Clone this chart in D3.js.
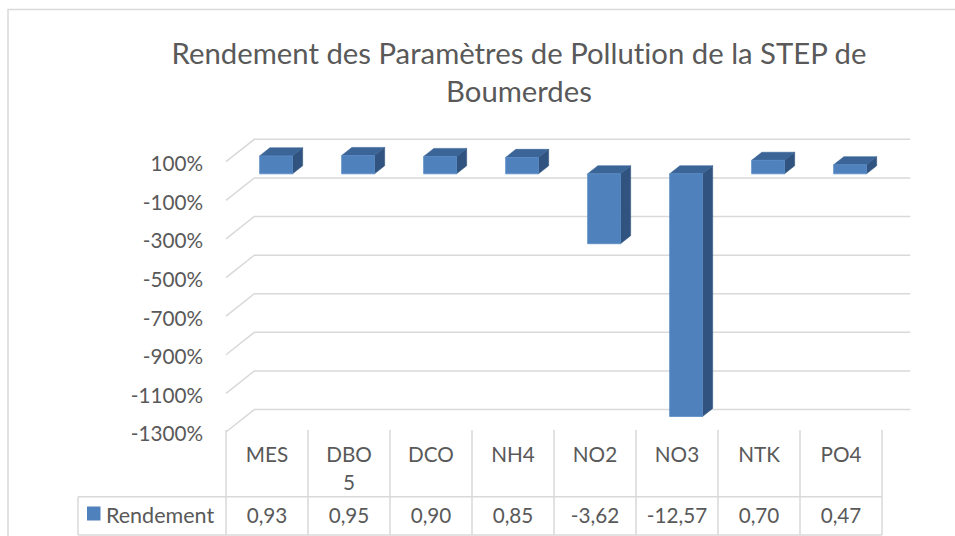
<!DOCTYPE html>
<html>
<head>
<meta charset="utf-8">
<script src="https://cdn.jsdelivr.net/npm/d3@7"></script>
<style>
  html, body { margin: 0; padding: 0; background: #fff; }
  svg { display: block; }
  text { font-family: Lato, "Open Sans", sans-serif; fill: #595959; font-variant-ligatures: none; font-feature-settings: "liga" 0; }
</style>
</head>
<body>
<svg id="chart" width="955" height="536"></svg>
<script>
// Rendement (removal efficiency) per pollution parameter, as a fraction
const categories = ["MES", "DBO5", "DCO", "NH4", "NO2", "NO3", "NTK", "PO4"];
const rendement = [0.93, 0.95, 0.90, 0.85, -3.62, -12.57, 0.70, 0.47];
const yTicks = [1, -1, -3, -5, -7, -9, -11, -13];
const seriesName = "Rendement";
const titleLines = ["Rendement des Paramètres de Pollution de la STEP de", "Boumerdes"];

const svg = d3.select("#chart");

const colors = {
  front: "#4F81BD",
  top: "#3B6497",
  side: "#30547F",
  grid: "#D9D9D9",
  text: "#595959"
};

// Plot frame (front plane) and oblique depth vector
const plotLeft = 226, plotRight = 882;
const frontTop = 161.7, frontBottom = 432;
const DX = 28.3, DY = -22.4;
const f1 = 0.32, f2 = 0.68; // bar front / back depth fractions

const x = d3.scaleBand()
  .domain(categories)
  .range([plotLeft, plotRight])
  .paddingInner(0.6)
  .paddingOuter(0.3);

const y = d3.scaleLinear()
  .domain([-13, 1])
  .range([frontBottom, frontTop]);

const proj = (px, py, f) => [px + DX * f, py + DY * f];

// Chart area border
svg.append("rect")
  .attr("x", 8).attr("y", 9.5)
  .attr("width", 980).attr("height", 560)
  .attr("fill", "none")
  .attr("stroke", colors.grid)
  .attr("stroke-width", 1.5);

// Title
svg.append("text")
  .attr("text-anchor", "middle")
  .attr("font-size", 29.3)
  .selectAll("tspan")
  .data(titleLines)
  .join("tspan")
  .attr("x", 519)
  .attr("y", (d, i) => 63.5 + i * 38.7)
  .text(d => d);

// Gridlines: back wall horizontal + left wall diagonal
const grid = svg.append("g")
  .attr("stroke", colors.grid)
  .attr("stroke-width", 1.5)
  .attr("fill", "none");

yTicks.forEach(t => {
  const yf = y(t);
  const [bx0, by0] = proj(plotLeft, yf, 1);
  const [bx1, by1] = proj(plotRight, yf, 1);
  grid.append("path")
    .attr("d", `M${plotLeft},${yf}L${bx0},${by0}L${bx1},${by1}`);
});

// Value axis labels
svg.append("g")
  .attr("text-anchor", "end")
  .attr("font-size", 20.7)
  .selectAll("text")
  .data(yTicks)
  .join("text")
  .attr("x", 203)
  .attr("y", d => y(d) + 2)
  .attr("dy", "0.36em")
  .text(d => Math.round(d * 100) + "%");

// 3D columns
const bars = svg.append("g");
categories.forEach((c, i) => {
  const v = rendement[i];
  const x0 = x(c), x1 = x(c) + x.bandwidth();
  const yTop = y(Math.max(v, 0));
  const yBot = y(Math.min(v, 0));

  const A = proj(x0, yTop, f1), B = proj(x1, yTop, f1);
  const C = proj(x1, yBot, f1), D = proj(x0, yBot, f1);
  const A2 = proj(x0, yTop, f2), B2 = proj(x1, yTop, f2), C2 = proj(x1, yBot, f2);

  const g = bars.append("g").attr("stroke-linejoin", "round");
  // right side face
  g.append("path")
    .attr("d", `M${B}L${B2}L${C2}L${C}Z`)
    .attr("fill", colors.side)
    .attr("stroke", colors.side).attr("stroke-width", 0.6);
  // top face
  g.append("path")
    .attr("d", `M${A}L${A2}L${B2}L${B}Z`)
    .attr("fill", colors.top)
    .attr("stroke", colors.top).attr("stroke-width", 0.6);
  // front face
  g.append("path")
    .attr("d", `M${A}L${B}L${C}L${D}Z`)
    .attr("fill", colors.front)
    .attr("stroke", "#5B8CC6").attr("stroke-width", 0.8);
});

// Data table below the plot
const tableTop = 430, rowSplit = 496.7, tableBottom = 535, tableLeft = 78;
const step = x.step();
const colX = d3.range(categories.length + 1).map(k => plotLeft + k * step);
const table = svg.append("g")
  .attr("stroke", colors.grid)
  .attr("stroke-width", 1.5);

table.append("line")
  .attr("x1", tableLeft).attr("x2", plotRight)
  .attr("y1", rowSplit).attr("y2", rowSplit);
table.append("line")
  .attr("x1", tableLeft).attr("x2", plotRight)
  .attr("y1", tableBottom).attr("y2", tableBottom);
table.append("line")
  .attr("x1", tableLeft).attr("x2", tableLeft)
  .attr("y1", rowSplit).attr("y2", tableBottom);
colX.forEach(cx => {
  table.append("line")
    .attr("x1", cx).attr("x2", cx)
    .attr("y1", tableTop).attr("y2", tableBottom);
});

// Category headers, wrapped when wider than the cell allows
const maxLabelWidth = step * 0.6;
const headers = svg.append("g")
  .attr("text-anchor", "middle")
  .attr("font-size", 20.7);

categories.forEach((c, i) => {
  const cx = plotLeft + (i + 0.5) * step;
  const t = headers.append("text").attr("x", cx).attr("y", 461.7);
  const probe = t.text(c);
  let lines = [c];
  if (probe.node().getComputedTextLength() > maxLabelWidth) {
    lines = [];
    let cur = "";
    for (const ch of c) {
      probe.text(cur + ch);
      if (cur && probe.node().getComputedTextLength() > maxLabelWidth) {
        lines.push(cur);
        cur = ch;
      } else {
        cur += ch;
      }
    }
    if (cur) lines.push(cur);
  }
  t.text(null);
  t.selectAll("tspan")
    .data(lines)
    .join("tspan")
    .attr("x", cx)
    .attr("y", (d, k) => 461.7 + k * 28.3)
    .text(d => d);
});

// Value row
const fr = d3.formatLocale({
  decimal: ",", thousands: " ", grouping: [3], currency: ["", " €"], minus: "-"
}).format(".2f");

svg.append("g")
  .attr("text-anchor", "middle")
  .attr("font-size", 20.7)
  .selectAll("text")
  .data(rendement)
  .join("text")
  .attr("x", (d, i) => plotLeft + (i + 0.5) * step)
  .attr("y", 522.5)
  .text(d => fr(d));

// Series key in the table
svg.append("rect")
  .attr("x", 87).attr("y", 506.5)
  .attr("width", 13.5).attr("height", 14)
  .attr("fill", colors.front);
svg.append("text")
  .attr("x", 106).attr("y", 522.5)
  .attr("font-size", 21.5)
  .text(seriesName);
</script>
</body>
</html>
